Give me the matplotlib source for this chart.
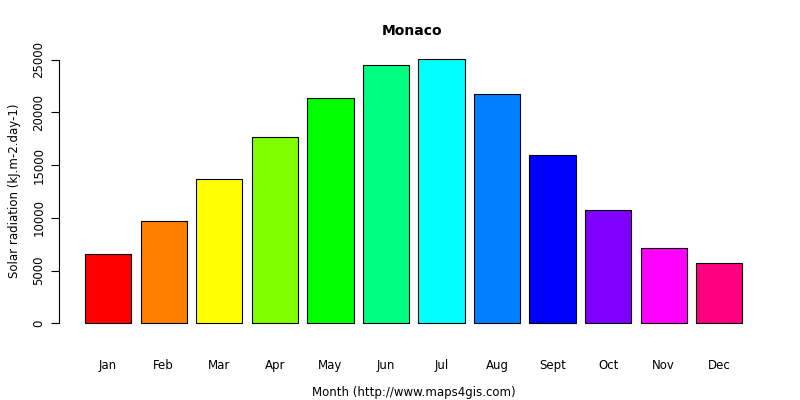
import matplotlib
matplotlib.use("Agg")
import matplotlib.pyplot as plt
import numpy as np

months = ["Jan","Feb","Mar","Apr","May","Jun","Jul","Aug","Sept","Oct","Nov","Dec"]
values = [6560, 9700, 13690, 17680, 21390, 24520, 25100, 21770, 15970, 10740, 7130, 5700]
colors = ["#FF0000","#FF8000","#FFFF00","#80FF00","#00FF00","#00FF80",
          "#00FFFF","#0080FF","#0000FF","#8000FF","#FF00FF","#FF0080"]
yticks = [0, 5000, 10000, 15000, 20000, 25000]

fig = plt.figure(figsize=(8, 4), dpi=100)
ax = fig.add_axes([0.0734, 0.165, 0.8875, 0.715])
x = 0.7 + 1.2 * np.arange(len(months))
ax.bar(x, values, width=1.0, color=colors, edgecolor="black", linewidth=0.8)
ax.set_xlim(-0.368, 14.968)
ax.set_ylim(-1004, 26104)
for s in ["top", "right", "bottom"]:
    ax.spines[s].set_visible(False)
ax.spines["left"].set_bounds(0, 25000)
ax.set_yticks(yticks)
ax.set_yticklabels([str(v) for v in yticks], rotation=90, va="center", fontsize=8.5)
ax.set_xticks(x)
ax.set_xticklabels(months, fontsize=8.5)
ax.tick_params(axis="x", length=0, pad=18)
ax.tick_params(axis="y", length=6)
ax.set_xlabel("Month (http://www.maps4gis.com)", fontsize=8.5, labelpad=10)
ax.set_ylabel("Solar radiation (kJ.m-2.day-1)", fontsize=8.5, labelpad=8)
fig.text(0.515, 0.922, "Monaco", ha="center", va="center", fontsize=10, fontweight="bold")
fig.savefig("out.png", dpi=100)
